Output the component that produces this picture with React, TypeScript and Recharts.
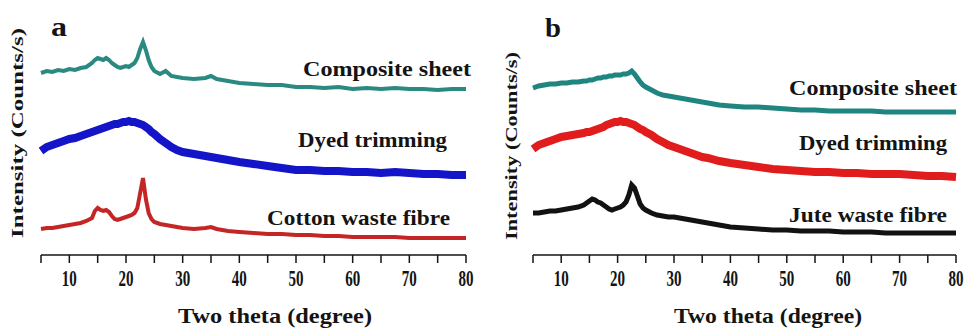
// @ts-nocheck
import { LineChart, Line, XAxis, YAxis } from "recharts";

// two theta (degree), shared by all six patterns
const theta = [
  5, 6, 7, 8, 9, 10, 11, 12, 13, 14, 14.5, 15, 15.5, 16, 16.5, 17, 17.5, 18, 18.5, 19, 19.5, 20, 20.5, 21, 21.5,
  22, 22.5, 23, 23.5, 24, 24.5, 25, 26, 27, 28, 29, 30, 32, 34, 35, 36, 38, 40, 42.5, 45, 47.5, 50, 52.5, 55,
  57.5, 60, 62.5, 65, 67.5, 70, 72.5, 75, 77.5, 80,
];

// panel a (offset intensity, arbitrary units)
const compositeA = [
  182, 184, 183, 185, 184, 186, 185, 187, 188, 192, 195, 197, 196, 195, 197, 195, 192, 190, 188, 187, 188, 189,
  188, 190, 192, 197, 206, 213, 205, 195, 188, 184, 181, 184, 179, 178, 177, 176, 177, 179, 176, 174, 172, 171,
  170, 170, 168, 168, 167, 168, 166, 167, 166, 167, 166, 166, 165, 166, 166,
];
const dyedA = [
  104, 108, 110, 112, 114, 116, 117, 119, 121, 123, 124, 125, 126, 127, 128, 129, 130, 131, 131, 132, 133, 133,
  134, 133, 133, 132, 131, 130, 128, 126, 123, 121, 116, 112, 108, 105, 103, 101, 99, 98, 97, 95, 93, 91, 89, 87,
  85, 85, 84, 84, 83, 83, 82, 83, 82, 81, 81, 80, 80,
];
const cottonA = [
  26, 27, 27, 28, 29, 30, 31, 32, 34, 37, 44, 47, 45, 44, 45, 43, 39, 36, 35, 36, 37, 38, 39, 40, 42, 47, 62, 77,
  56, 42, 36, 33, 31, 30, 29, 28, 27, 26, 27, 28, 26, 24, 23, 22, 21, 21, 20, 20, 19, 19, 18, 18, 18, 18, 17, 17,
  17, 17, 17,
];

// panel b
const compositeB = [
  167, 169, 170, 171, 171, 172, 172, 173, 173, 174, 174, 175, 175, 176, 177, 177, 178, 178, 179, 179, 180, 180,
  180, 181, 181, 182, 184, 181, 177, 173, 170, 168, 165, 162, 160, 159, 158, 156, 154, 153, 152, 150, 149, 148,
  148, 147, 146, 145, 145, 144, 144, 144, 144, 143, 143, 143, 143, 143, 143,
];
const dyedB = [
  106, 110, 112, 114, 116, 118, 119, 120, 121, 122, 123, 123, 124, 125, 126, 127, 128, 130, 131, 132, 133, 133,
  134, 133, 133, 132, 131, 130, 128, 126, 125, 123, 120, 116, 113, 110, 108, 104, 100, 98, 97, 94, 92, 90, 88,
  86, 85, 84, 83, 83, 82, 82, 81, 81, 81, 80, 79, 79, 78,
];
const juteB = [
  42, 42, 43, 44, 44, 45, 46, 47, 48, 50, 52, 54, 56, 55, 53, 52, 50, 48, 46, 45, 46, 47, 48, 50, 53, 60, 70, 67,
  59, 51, 47, 45, 42, 40, 39, 38, 38, 36, 34, 33, 32, 30, 28, 27, 26, 25, 25, 24, 24, 24, 23, 23, 23, 22, 22, 22,
  22, 22, 22,
];

const xTicks = [5, 10, 15, 20, 25, 30, 35, 40, 45, 50, 55, 60, 65, 70, 75, 80];

const rowsA = theta.map((t, i) => ({ t, comp: compositeA[i], dyed: dyedA[i], fibre: cottonA[i] }));
const rowsB = theta.map((t, i) => ({ t, comp: compositeB[i], dyed: dyedB[i], fibre: juteB[i] }));

const serif = "'Liberation Serif', 'DejaVu Serif', serif";
const ink = "#141414";

function Tick({ x, y, payload }) {
  if (payload.value % 10 !== 0) return null;
  return (
    <text
      x={x}
      y={y + 21}
      textAnchor="middle"
      fontFamily={serif}
      fontWeight="bold"
      fontSize={23}
      fill={ink}
      textLength={15}
      lengthAdjust="spacingAndGlyphs"
    >
      {payload.value}
    </text>
  );
}

function Panel({ data, left, margin, yMax, colors, widths }) {
  return (
    <div style={{ position: "absolute", left, top: 0 }}>
      <LineChart width={484} height={329} data={data} margin={margin} style={{ overflow: "visible" }}>
        <XAxis
          dataKey="t"
          type="number"
          domain={[5, 80]}
          ticks={xTicks}
          height={74}
          tickSize={8}
          tickLine={{ stroke: ink, strokeWidth: 1.5 }}
          axisLine={{ stroke: ink, strokeWidth: 1.5 }}
          tick={<Tick />}
          interval={0}
        />
        <YAxis
          type="number"
          domain={[0, yMax]}
          width={0}
          tick={false}
          tickLine={false}
          axisLine={{ stroke: ink, strokeWidth: 1.5 }}
        />
        <Line dataKey="comp" type="linear" stroke={colors[0]} strokeWidth={widths[0]} dot={false} isAnimationActive={false} />
        <Line dataKey="dyed" type="linear" stroke={colors[1]} strokeWidth={widths[1]} dot={false} isAnimationActive={false} />
        <Line dataKey="fibre" type="linear" stroke={colors[2]} strokeWidth={widths[2]} dot={false} isAnimationActive={false} />
      </LineChart>
    </div>
  );
}

function Label({ x, y, w, size = 21, children }) {
  return (
    <text
      x={x}
      y={y}
      fontFamily={serif}
      fontWeight="bold"
      fontSize={size}
      fill={ink}
      textLength={w}
      lengthAdjust="spacingAndGlyphs"
    >
      {children}
    </text>
  );
}

export default function App() {
  return (
    <div style={{ position: "absolute", left: 0, top: 0, width: 968, height: 329, background: "#fff", overflow: "hidden" }}>
      <Panel
        data={rowsA}
        left={0}
        margin={{ top: 15, right: 18, left: 41, bottom: 0 }}
        yMax={240}
        colors={["#2a8a82", "#1414c8", "#c42626"]}
        widths={[4, 8, 4]}
      />
      <Panel
        data={rowsB}
        left={484}
        margin={{ top: 48, right: 12, left: 49, bottom: 0 }}
        yMax={207}
        colors={["#1f8580", "#e01c1c", "#121212"]}
        widths={[5, 8, 5]}
      />
      <svg width={968} height={329} style={{ position: "absolute", left: 0, top: 0, pointerEvents: "none" }}>
        <Label x={51} y={36} w={16} size={28}>a</Label>
        <Label x={545} y={37} w={16} size={28}>b</Label>

        <Label x={303} y={76} w={168}>Composite sheet</Label>
        <Label x={298} y={147} w={149}>Dyed trimming</Label>
        <Label x={267} y={225} w={183}>Cotton waste fibre</Label>

        <Label x={789} y={95} w={168}>Composite sheet</Label>
        <Label x={799} y={150} w={148}>Dyed trimming</Label>
        <Label x={789} y={222} w={158}>Jute waste fibre</Label>

        <text x={275} y={323} textAnchor="middle" fontFamily={serif} fontWeight="bold" fontSize={21} fill={ink} textLength={194} lengthAdjust="spacingAndGlyphs">
          Two theta (degree)
        </text>
        <text x={768} y={323} textAnchor="middle" fontFamily={serif} fontWeight="bold" fontSize={21} fill={ink} textLength={188} lengthAdjust="spacingAndGlyphs">
          Two theta (degree)
        </text>

        <text transform="translate(23,133) rotate(-90)" textAnchor="middle" fontFamily={serif} fontWeight="bold" fontSize={17} fill={ink} textLength={210} lengthAdjust="spacingAndGlyphs">
          Intensity (Counts/s)
        </text>
        <text transform="translate(517,146) rotate(-90)" textAnchor="middle" fontFamily={serif} fontWeight="bold" fontSize={17} fill={ink} textLength={188} lengthAdjust="spacingAndGlyphs">
          Intensity (Counts/s)
        </text>
      </svg>
    </div>
  );
}
